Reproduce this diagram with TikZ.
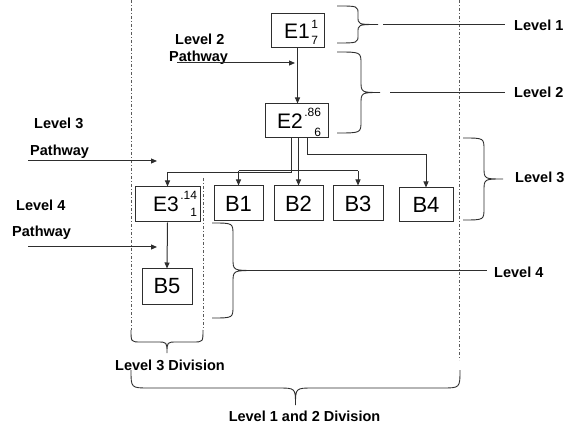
\documentclass[tikz,border=0pt]{standalone}
\usepackage{fontspec}
\setmainfont{Liberation Sans}
\usetikzlibrary{arrows.meta,calc}
\definecolor{boxcol}{HTML}{2E2E2E}
\definecolor{dashcol}{HTML}{5A5A5A}
\newsavebox\escbox
\newcommand{\scrf}{\fontsize{12}{12}\selectfont}
\newcommand{\etxt}[5]{#1\kern1.5pt\sbox\escbox{\scrf #2}\rlap{\smash{\raisebox{#4}{\usebox\escbox}}}\makebox[\wd\escbox][r]{\smash{\raisebox{-#5}{\scrf #3}}}}
\newcommand{\rbrc}[7]{%
 \pgfmathsetmacro\bym{(#3+#4)/2}%
 \coordinate (#1) at (#6,\bym);
 \draw[brc] (#2,#3) .. controls (#5,#3) .. (#5,{#3+#7}) -- (#5,{\bym-#7}) .. controls (#5,\bym) .. (#1) .. controls (#5,\bym) .. (#5,{\bym+#7}) -- (#5,{#4-#7}) .. controls (#5,#4) .. (#2,#4);}
\newcommand{\dbrc}[7]{%
 \pgfmathsetmacro\bxm{(#2+#3)/2}%
 \coordinate (#1) at (\bxm,#6);
 \draw[brc] (#2,#4) .. controls (#2,#5) .. ({#2+#7},#5) -- ({\bxm-#7},#5) .. controls (\bxm,#5) .. (#1) .. controls (\bxm,#5) .. ({\bxm+#7},#5) -- ({#3-#7},#5) .. controls (#3,#5) .. (#3,#4);}
\tikzset{
  ebox/.style={draw=boxcol, line width=1pt, inner sep=0pt, font=\fontsize{21}{21}\selectfont},
  bbox/.style={draw=boxcol, line width=1pt, inner sep=0pt, font=\fontsize{22}{22}\selectfont},
  lab/.style={inner sep=0pt, anchor=base west, font=\fontsize{14.5}{15}\selectfont\bfseries},
  clab/.style={inner sep=0pt, anchor=base, font=\fontsize{14.5}{15}\selectfont\bfseries},
  ln/.style={draw=boxcol, line width=1pt},
  arr/.style={ln, -{Triangle[length=6pt,width=5pt]}},
  brc/.style={draw=boxcol, line width=0.9pt},
  dd/.style={draw=dashcol, line width=0.9pt, dash pattern=on 3pt off 2pt on 1pt off 2pt}
}
\begin{document}
\begin{tikzpicture}[x=1pt,y=-1pt]
\useasboundingbox (0,0) rectangle (564,427);
% division lines
\draw[dd] (131,0) -- (131,330);
\draw[dd] (459,0) -- (459,360);
\draw[dd] (203,178) -- (203,330);
% boxes
\node[ebox, minimum width=53pt, minimum height=34pt] (e1) at (297.5,31) {\hspace*{7pt}\etxt{E1}{1}{7}{10pt}{6pt}};
\node[ebox, minimum width=63pt, minimum height=34pt] (e2) at (296.5,121) {\hspace*{5pt}\etxt{E2}{.86}{6}{12pt}{8pt}};
\node[ebox, minimum width=65pt, minimum height=35pt] (e3) at (167.5,204.5) {\hspace*{15pt}\etxt{E3}{.14}{1}{12pt}{5pt}};
\node[bbox, minimum width=49pt, minimum height=35pt] (b1) at (238.5,203.5) {B1};
\node[bbox, minimum width=49pt, minimum height=35pt] (b2) at (298.5,203.5) {B2};
\node[bbox, minimum width=50pt, minimum height=35pt] (b3) at (358,203.5) {B3};
\node[bbox, minimum width=54pt, minimum height=34pt] (b4) at (426,205) {B4};
\node[bbox, minimum width=50pt, minimum height=35pt] (b5) at (167,286.5) {B5};
% connectors
\draw[arr] (e1.south) -- (e1.south |- e2.north);
\draw[arr] ($(e2.south)+(-5.5,0)$) -- ++(0,34) -| (e3.north);
\draw[arr] (b2.north |- e2.south) -- (b2.north);
\coordinate (bus) at (298.5,171);
\draw[ln] (bus -| b1.north) -- (bus -| b3.north);
\draw[arr] (bus -| b1.north) -- (b1.north);
\draw[arr] (bus -| b3.north) -- (b3.north);
\draw[arr] ($(e2.south)+(10.5,0)$) -- ++(0,16) -| (b4.north);
\draw[arr] (e3.south) -- (b5.north);
% labels
\node[lab] (l1) at (514,31) {Level 1};
\node[lab] (l2) at (514,98) {Level 2};
\node[lab] (l3) at (515,183) {Level 3};
\node[lab] (l4) at (494,277) {Level 4};
\node[lab] (p2a) at (175,45) {Level 2};
\node[lab] (p2b) at (169,62) {Pathway};
\node[lab] (p3a) at (34,129) {Level 3};
\node[lab] (p3b) at (30,156) {Pathway};
\node[lab] (p4a) at (16,211) {Level 4};
\node[lab] (p4b) at (12,237) {Pathway};
\node[clab] (d3) at (170,370) {Level 3 Division};
\node[clab] (d12) at (304.5,421) {Level 1 and 2 Division};
% pathway arrows
\coordinate (a2s) at (177,63); \coordinate (a2e) at (295,63);
\coordinate (a3s) at (28,161); \coordinate (a3e) at (157,161);
\coordinate (a4s) at (28,247); \coordinate (a4e) at (157,247);
\draw[arr] (a2s) -- (a2e);
\draw[arr] (a3s) -- (a3e);
\draw[arr] (a4s) -- (a4e);
% braces
\rbrc{t1}{337}{6}{43}{358}{378}{8}
\rbrc{t2}{337}{52}{133}{361}{380}{12}
\rbrc{t3}{463}{138}{220}{484}{503}{12}
\rbrc{t4}{212}{223}{318}{233}{255}{12}
\dbrc{t5}{131}{203}{330}{342}{353}{10}
\dbrc{t6}{131}{460}{370}{388}{405}{18}
\draw[ln, line width=0.9pt, shorten <=5pt, shorten >=9pt] (t1) -- (t1 -| l1.west);
\draw[ln, line width=0.9pt, shorten <=10pt, shorten >=9pt] (t2) -- (t2 -| l2.west);
\draw[ln, line width=0.9pt, shorten >=7pt] (t4) -- (t4 -| l4.west);
\end{tikzpicture}
\end{document}
